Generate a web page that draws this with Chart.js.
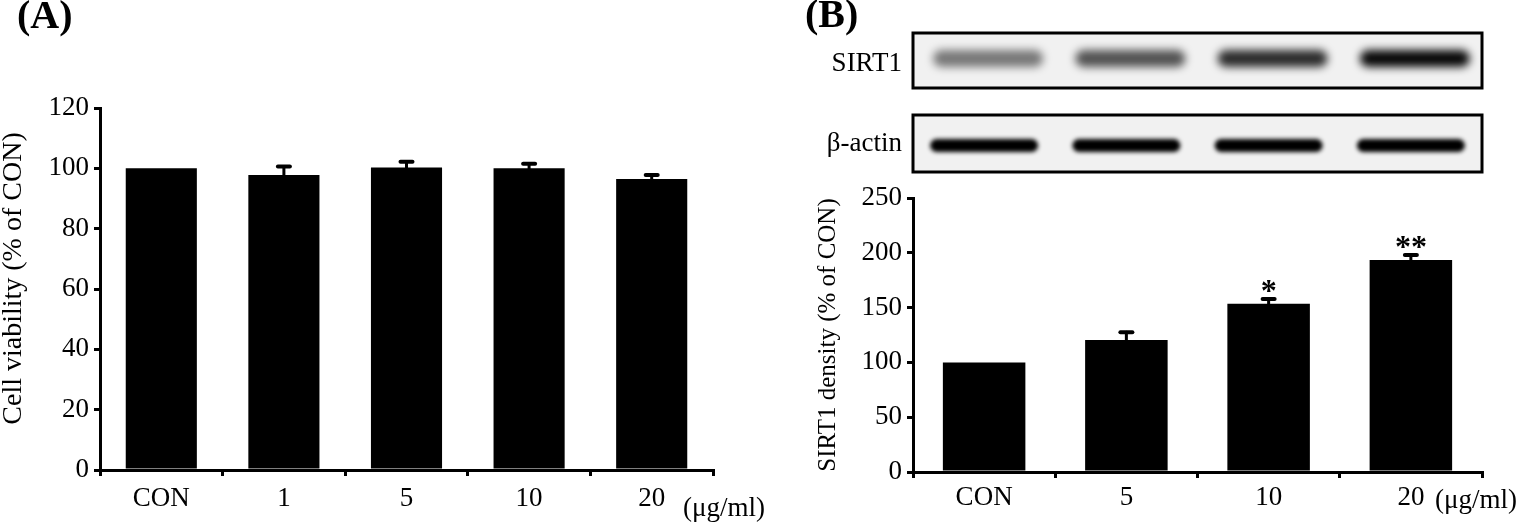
<!DOCTYPE html>
<html>
<head>
<meta charset="utf-8">
<title>Cell viability and SIRT1 density</title>
<script src="https://cdn.jsdelivr.net/npm/chart.js@4.4.0/dist/chart.umd.min.js"></script>
<style>
    html, body { margin: 0; padding: 0; background: #fff; }
    body { width: 1524px; height: 528px; position: relative; overflow: hidden;
           font-family: "Liberation Serif", "Times New Roman", serif; color: #000; }
    .panel { position: absolute; top: 0; height: 528px; }
    #panelA { left: 0; width: 780px; }
    #panelB { left: 780px; width: 744px; }
    .tag { position: absolute; font-weight: bold; font-size: 40px; line-height: 1; }
    .unit { position: absolute; font-size: 27px; line-height: 1; white-space: nowrap; }
</style>
</head>
<body>
<div class="panel" id="panelA"><canvas id="viabilityChart"></canvas></div>
<div class="panel" id="panelB"><canvas id="sirtChart"></canvas></div>
<div class="tag" style="left:17px; top:-5px;">(A)</div>
<div class="tag" style="left:805px; top:-6px;">(B)</div>
<div class="unit" style="left:683px; top:494px;">(μg/ml)</div>
<div class="unit" style="left:1435px; top:486px;">(μg/ml)</div>

<script>
// Panel A - cell viability
const viabilityLabels = ['CON', '1', '5', '10', '20'];
const viabilityMeans = [100, 97.8, 100.3, 100.0, 96.5];
const viabilityErrors = [0, 2.8, 1.9, 1.5, 1.3];
const viabilityTicks = [0, 20, 40, 60, 80, 100, 120];

// Panel B - SIRT1 densitometry
const sirtLabels = ['CON', '5', '10', '20'];
const sirtMeans = [100, 120.4, 153.6, 193.4];
const sirtErrors = [0, 7.2, 4.3, 4.6];
const sirtMarks = ['', '', '*', '**'];
const sirtTicks = [0, 50, 100, 150, 200, 250];

// western blot band darkness per lane (0 = none, 1 = black)
const sirtBandLevels = [0.5, 0.66, 0.82, 0.97];
const actinBandLevels = [1, 1, 1, 1];

Chart.defaults.font.family = '"Liberation Serif", "Times New Roman", serif';
Chart.defaults.color = '#000';

const errorBarPlugin = {
    id: 'errorBars',
    afterDatasetsDraw(chart, args, opts) {
        const ctx = chart.ctx;
        const yScale = chart.scales.y;
        const meta = chart.getDatasetMeta(0);
        ctx.save();
        ctx.strokeStyle = '#000';
        ctx.fillStyle = '#000';
        ctx.lineCap = 'round';
        meta.data.forEach((bar, i) => {
            const top = yScale.getPixelForValue(opts.means[i] + opts.errors[i]);
            if (opts.errors[i] > 0) {
                ctx.lineWidth = 3;
                ctx.beginPath();
                ctx.moveTo(bar.x, bar.y);
                ctx.lineTo(bar.x, top);
                ctx.stroke();
                ctx.lineWidth = 4;
                ctx.beginPath();
                ctx.moveTo(bar.x - 6, top);
                ctx.lineTo(bar.x + 6, top);
                ctx.stroke();
            }
            if (opts.marks && opts.marks[i]) {
                ctx.font = 'bold 32px "Liberation Serif", serif';
                ctx.textAlign = 'center';
                ctx.textBaseline = 'alphabetic';
                ctx.fillText(opts.marks[i], bar.x, top + 2);
            }
        });
        ctx.restore();
    }
};

const blotPlugin = {
    id: 'blots',
    afterDraw(chart, args, opts) {
        const ctx = chart.ctx;
        const area = chart.chartArea;
        const xScale = chart.scales.x;
        const w = area.right - area.left;
        ctx.save();
        opts.rows.forEach(row => {
            ctx.fillStyle = '#f1f1f1';
            ctx.fillRect(area.left, row.top, w, row.height);

            ctx.save();
            ctx.beginPath();
            ctx.rect(area.left, row.top, w, row.height);
            ctx.clip();
            ctx.filter = 'blur(' + row.blur + 'px)';
            row.levels.forEach((lvl, i) => {
                const cx = xScale.getPixelForValue(i) + row.shift;
                const cy = row.top + row.height / 2 + row.bandOffset;
                ctx.fillStyle = 'rgba(0,0,0,' + lvl + ')';
                ctx.beginPath();
                ctx.roundRect(cx - row.bandWidth / 2, cy - row.bandHeight / 2,
                              row.bandWidth, row.bandHeight, row.bandHeight / 2);
                ctx.fill();
            });
            ctx.restore();

            ctx.strokeStyle = '#000';
            ctx.lineWidth = 3;
            ctx.strokeRect(area.left, row.top, w, row.height);

            ctx.fillStyle = '#000';
            ctx.font = '27px "Liberation Serif", serif';
            ctx.textAlign = 'right';
            ctx.textBaseline = 'alphabetic';
            ctx.fillText(row.label, area.left - 11, row.labelY);
        });
        ctx.restore();
    }
};

function axisStyle(extra) {
    return Object.assign({
        border: { display: true, color: '#000', width: 3 },
        grid: {
            display: true,
            drawOnChartArea: false,
            drawTicks: true,
            tickLength: 6,
            color: '#000',
            lineWidth: 3
        }
    }, extra);
}

new Chart(document.getElementById('viabilityChart'), {
    type: 'bar',
    data: {
        labels: viabilityLabels,
        datasets: [{
            data: viabilityMeans,
            backgroundColor: '#000',
            borderWidth: 0,
            categoryPercentage: 0.58,
            barPercentage: 1
        }]
    },
    options: {
        responsive: true,
        maintainAspectRatio: false,
        animation: false,
        layout: { padding: { left: 0, top: 108, right: 67, bottom: 0 } },
        plugins: {
            legend: { display: false },
            tooltip: { enabled: false },
            errorBars: { means: viabilityMeans, errors: viabilityErrors }
        },
        scales: {
            x: axisStyle({
                ticks: { font: { size: 27 }, padding: 7 },
                afterFit(scale) { scale.height = 58; }
            }),
            y: axisStyle({
                min: viabilityTicks[0],
                max: viabilityTicks[viabilityTicks.length - 1],
                afterBuildTicks(scale) {
                    scale.ticks = viabilityTicks.map(v => ({ value: v }));
                },
                ticks: { font: { size: 27 }, padding: 5 },
                title: {
                    display: true,
                    text: '\u00a0\u00a0\u00a0Cell viability (% of CON)',
                    font: { size: 28, lineHeight: 1 },
                    padding: { top: 0, bottom: 0 }
                },
                afterFit(scale) { scale.width = 100; }
            })
        }
    },
    plugins: [errorBarPlugin]
});

new Chart(document.getElementById('sirtChart'), {
    type: 'bar',
    data: {
        labels: sirtLabels,
        datasets: [{
            data: sirtMeans,
            backgroundColor: '#000',
            borderWidth: 0,
            categoryPercentage: 0.58,
            barPercentage: 1
        }]
    },
    options: {
        responsive: true,
        maintainAspectRatio: false,
        animation: false,
        layout: { padding: { left: 36, top: 198, right: 42, bottom: 0 } },
        plugins: {
            legend: { display: false },
            tooltip: { enabled: false },
            errorBars: { means: sirtMeans, errors: sirtErrors, marks: sirtMarks },
            blots: {
                rows: [
                    { label: 'SIRT1', top: 33, height: 55, labelY: 71, levels: sirtBandLevels,
                      bandWidth: 110, bandHeight: 17, bandOffset: -2, blur: 4, shift: 4 },
                    { label: 'β-actin', top: 115, height: 57, labelY: 151, levels: actinBandLevels,
                      bandWidth: 108, bandHeight: 13, bandOffset: 2, blur: 2, shift: 0 }
                ]
            }
        },
        scales: {
            x: axisStyle({
                ticks: { font: { size: 27 }, padding: 4 },
                afterFit(scale) { scale.height = 56; }
            }),
            y: axisStyle({
                min: sirtTicks[0],
                max: sirtTicks[sirtTicks.length - 1],
                afterBuildTicks(scale) {
                    scale.ticks = sirtTicks.map(v => ({ value: v }));
                },
                ticks: { font: { size: 27 }, padding: 5 },
                title: {
                    display: true,
                    text: 'SIRT1 density (% of CON)',
                    font: { size: 25, lineHeight: 1 },
                    padding: { top: 0, bottom: 0 }
                },
                afterFit(scale) { scale.width = 97; }
            })
        }
    },
    plugins: [errorBarPlugin, blotPlugin]
});
</script>
</body>
</html>
